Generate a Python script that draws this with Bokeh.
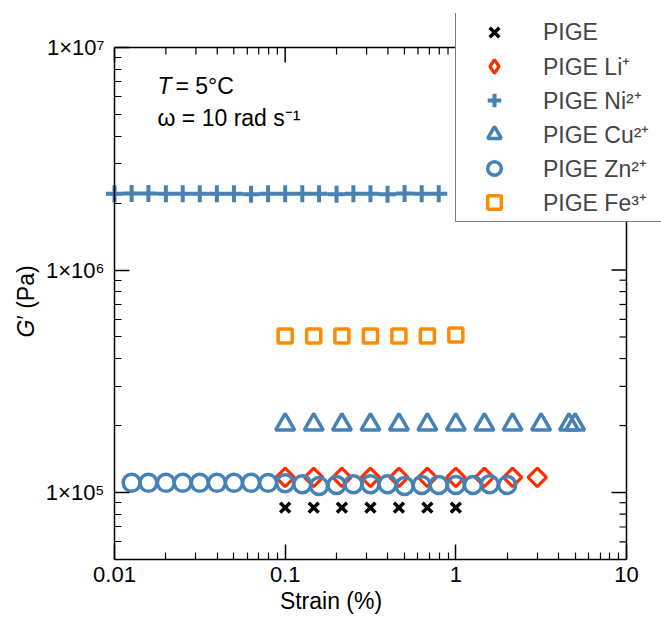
import math

from bokeh.plotting import figure
from bokeh.models import (FixedTicker, CustomJSTickFormatter, Legend,
                          LegendItem, Label, Range1d)
from bokeh.embed import file_html
from bokeh.resources import INLINE

# ---- strain sweeps: strain (%) and storage modulus G' (Pa) ----
pige_strain = [0.1, 0.147, 0.215, 0.316, 0.464, 0.681, 1.0]
pige_g = [8.55e4, 8.55e4, 8.55e4, 8.55e4, 8.55e4, 8.55e4, 8.55e4]

li_strain = [0.1, 0.147, 0.215, 0.316, 0.464, 0.681, 1.0, 1.47, 2.15, 3.0]
li_g = [1.17e5, 1.17e5, 1.17e5, 1.17e5, 1.17e5, 1.17e5, 1.17e5, 1.17e5, 1.17e5, 1.17e5]

ni_strain = [0.01, 0.0126, 0.0158, 0.02, 0.0251, 0.0316, 0.0398, 0.0501, 0.0631, 0.0794,
             0.1, 0.126, 0.158, 0.2, 0.251, 0.316, 0.398, 0.501, 0.631, 0.794]
ni_g = [2.20e6, 2.21e6, 2.21e6, 2.20e6, 2.20e6, 2.20e6, 2.20e6, 2.20e6, 2.19e6, 2.20e6,
        2.20e6, 2.20e6, 2.20e6, 2.19e6, 2.20e6, 2.20e6, 2.19e6, 2.21e6, 2.20e6, 2.20e6]

cu_strain = [0.1, 0.147, 0.215, 0.316, 0.464, 0.681, 1.0, 1.47, 2.15, 3.16, 4.6, 5.0]
cu_g = [2.02e5, 2.02e5, 2.02e5, 2.02e5, 2.02e5, 2.02e5, 2.02e5, 2.02e5, 2.02e5, 2.02e5,
        2.02e5, 2.02e5]

zn_strain = [0.0126, 0.0158, 0.02, 0.0251, 0.0316, 0.0398, 0.0501, 0.0631, 0.0794, 0.1,
             0.126, 0.158, 0.2, 0.251, 0.316, 0.398, 0.501, 0.631, 0.794, 1.0,
             1.26, 1.58, 2.0]
zn_g = [1.105e5, 1.105e5, 1.105e5, 1.105e5, 1.105e5, 1.105e5, 1.105e5, 1.105e5, 1.105e5,
        1.10e5, 1.09e5, 1.07e5, 1.08e5, 1.09e5, 1.09e5, 1.09e5, 1.07e5, 1.08e5, 1.08e5,
        1.08e5, 1.08e5, 1.09e5, 1.08e5]

fe_strain = [0.1, 0.147, 0.215, 0.316, 0.464, 0.681, 1.0]
fe_g = [5.05e5, 5.05e5, 5.05e5, 5.05e5, 5.05e5, 5.05e5, 5.1e5]

# ---- axes ----
x_ticks = [0.01, 0.1, 1, 10]
x_tick_labels = ["0.01", "0.1", "1", "10"]
y_ticks = [1e5, 1e6, 1e7]
y_tick_labels = ["1×10⁵", "1×10⁶", "1×10⁷"]
x_minor = [m * 10.0 ** e for e in (-2, -1, 0) for m in range(2, 10)]
y_minor = [m * 1e4 for m in range(5, 10)] + [m * 10.0 ** e for e in (5, 6) for m in range(2, 10)]
x_lo, x_hi = 0.01, 10.0
y_lo, y_hi = 5e4, 1e7

BLUE = "#4682B4"
RED = "#FF2D00"
ORANGE = "#FF8C00"
FONT = "Liberation Sans"

# The boxed axes area is 512 x 512 px, 114 px from the left edge.  The drawing
# area reaches past it (left, up, right) so that the y title and the legend,
# which sits over the box's corner, can be drawn there.
BOX = 512
EXTRA_LEFT, EXTRA_TOP, EXTRA_RIGHT = 114, 34, 35
ppd_x = BOX / math.log10(x_hi / x_lo)
ppd_y = BOX / math.log10(y_hi / y_lo)

p = figure(width=661, height=618, x_axis_type="log", y_axis_type="log",
           x_range=Range1d(x_lo / 10 ** (EXTRA_LEFT / ppd_x),
                           x_hi * 10 ** (EXTRA_RIGHT / ppd_x)),
           y_range=Range1d(y_lo, y_hi * 10 ** (EXTRA_TOP / ppd_y)),
           output_backend="svg", toolbar_location=None,
           min_border_left=0, min_border_right=0,
           min_border_top=47 - EXTRA_TOP, min_border_bottom=59)
p.grid.visible = False
p.outline_line_color = None
p.background_fill_color = "white"
p.border_fill_color = "white"

fmt_code = """
let best = 0, d = Infinity;
for (let i = 0; i < tk.length; i++) {
  const dd = Math.abs(Math.log10(tick) - Math.log10(tk[i]));
  if (dd < d) { d = dd; best = i; }
}
return lbl[best];
"""
x_ticker = FixedTicker(ticks=x_ticks, minor_ticks=x_minor)
y_ticker = FixedTicker(ticks=y_ticks, minor_ticks=y_minor)

MAJOR, MINOR = 15, 7


def style_axis(ax, ticker, bounds):
    ax.ticker = ticker
    ax.bounds = bounds
    ax.major_tick_in = MAJOR
    ax.major_tick_out = 0
    ax.minor_tick_in = MINOR
    ax.minor_tick_out = 0
    ax.axis_line_color = "black"
    ax.axis_line_width = 1.5
    ax.major_tick_line_color = "black"
    ax.major_tick_line_width = 1.5
    ax.minor_tick_line_color = "black"
    ax.minor_tick_line_width = 1.2
    ax.major_label_text_font = FONT
    ax.major_label_text_font_size = "22px"
    ax.major_label_text_color = "black"


xa = p.xaxis[0]
style_axis(xa, x_ticker, (x_lo, x_hi))
xa.formatter = CustomJSTickFormatter(args=dict(tk=x_ticks, lbl=x_tick_labels), code=fmt_code)
xa.major_label_standoff = 7
xa.axis_label = "Strain (%)"
xa.axis_label_text_font = FONT
xa.axis_label_text_font_size = "23px"
xa.axis_label_text_font_style = "normal"
xa.axis_label_text_color = "black"
xa.axis_label_standoff = 3

# y axis pinned at the box's left edge (strain = 0.01)
ya = p.yaxis[0]
style_axis(ya, y_ticker, (y_lo, y_hi))
ya.fixed_location = x_lo
ya.formatter = CustomJSTickFormatter(args=dict(tk=y_ticks, lbl=y_tick_labels), code=fmt_code)
ya.major_label_standoff = 10

# closing edges of the box (top and right) with inward ticks
p.line([x_lo, x_hi], [y_hi, y_hi], line_color="black", line_width=1.5)
p.line([x_hi, x_hi], [y_lo, y_hi], line_color="black", line_width=1.5)
p.ray(x=x_ticks, y=[y_hi] * len(x_ticks), length=MAJOR, length_units="screen",
      angle=-math.pi / 2, line_color="black", line_width=1.5)
p.ray(x=x_minor, y=[y_hi] * len(x_minor), length=MINOR, length_units="screen",
      angle=-math.pi / 2, line_color="black", line_width=1.2)
p.ray(x=[x_hi] * len(y_ticks), y=y_ticks, length=MAJOR, length_units="screen",
      angle=math.pi, line_color="black", line_width=1.5)
p.ray(x=[x_hi] * len(y_minor), y=y_minor, length=MINOR, length_units="screen",
      angle=math.pi, line_color="black", line_width=1.2)

# ---- data ----
r_pige = p.scatter(pige_strain, pige_g, marker="x", size=14, line_width=3.5,
                   line_color="black")
p.scatter(li_strain, li_g, marker="square", angle=math.pi / 4, size=13,
          line_width=3.2, line_color=RED, fill_color=None)
# legend swatch for the Li+ series: same points, zero size on the plot, drawn
# as a diamond in the legend
r_li_key = p.scatter(li_strain, li_g, marker="diamond", size=0, line_width=3.2,
                     line_color=RED, fill_color=None)
p.line(ni_strain, ni_g, line_color=BLUE, line_width=2.5)
r_ni = p.scatter(ni_strain, ni_g, marker="cross", size=17, line_width=4,
                 line_color=BLUE)
r_cu = p.scatter(cu_strain, cu_g, marker="triangle", size=19, line_width=3.5,
                 line_color=BLUE, fill_color=None)
r_zn = p.scatter(zn_strain, zn_g, marker="circle", size=17, line_width=3.5,
                 line_color=BLUE, fill_color=None)
r_fe = p.scatter(fe_strain, fe_g, marker="square", size=14, line_width=3.5,
                 line_color=ORANGE, fill_color=None)

legend = Legend(items=[
    LegendItem(label="PIGE", renderers=[r_pige]),
    LegendItem(label="PIGE Li⁺", renderers=[r_li_key]),
    LegendItem(label="PIGE Ni²⁺", renderers=[r_ni]),
    LegendItem(label="PIGE Cu²⁺", renderers=[r_cu]),
    LegendItem(label="PIGE Zn²⁺", renderers=[r_zn]),
    LegendItem(label="PIGE Fe³⁺", renderers=[r_fe]),
], location=(455, 337))
legend.border_line_color = "black"
legend.border_line_width = 1.5
legend.background_fill_color = "white"
legend.background_fill_alpha = 1.0
legend.padding = 2
legend.spacing = 0
legend.margin = 0
legend.label_height = 34
legend.glyph_height = 34
legend.glyph_width = 72
legend.label_standoff = 13
legend.label_width = 124
legend.label_text_font = FONT
legend.label_text_font_size = "23px"
legend.label_text_baseline = "middle"
p.add_layout(legend, "center")

# ---- annotations (screen px from the drawing area's bottom-left) ----
common = dict(x_units="screen", y_units="screen", text_font=FONT,
              text_font_size="23px", text_baseline="middle", text_color="black")
p.add_layout(Label(x=157, y=474, text="T", text_font_style="italic", **common))
p.add_layout(Label(x=175, y=474, text="= 5°C", **common))
p.add_layout(Label(x=157, y=442, text="ω = 10 rad s⁻¹", **common))

# y-axis title with an italic G
p.add_layout(Label(x=25, y=222, text="G", angle=math.pi / 2, text_align="left",
                   text_font_style="italic", **common))
p.add_layout(Label(x=25, y=240, text="′ (Pa)", angle=math.pi / 2, text_align="left",
                   **common))

open("out.html", "w").write(file_html(p, INLINE))
